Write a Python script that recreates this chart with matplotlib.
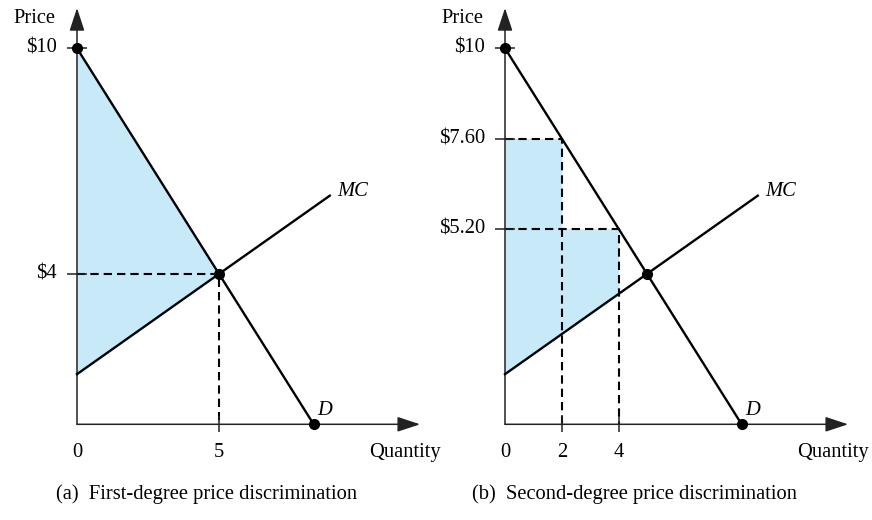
import matplotlib.pyplot as plt
import numpy as np

plt.rcParams['font.family'] = ['Liberation Serif', 'DejaVu Serif']

# same market in both panels: demand P = 10 - 1.2Q, MC = 4/3 + 8/15 Q
demand_intercept = 10.0
demand_slope = 1.2
mc_intercept = 4 / 3
mc_slope = 8 / 15
mc_end_q = 8.9

# (a) first-degree
a_eq_q, a_eq_p = 5, 4
a_price_ticks = [10, 4]
a_price_labels = ['$10', '$4']
a_qty_ticks = [0, 5]
a_qty_labels = ['0', '5']

# (b) second-degree, block pricing
b_block_q = [0, 2, 4]
b_block_p = [7.6, 5.2]
b_price_ticks = [10, 7.6, 5.2]
b_price_labels = ['$10', '$7.60', '$5.20']
b_qty_ticks = [0, 2, 4]
b_qty_labels = ['0', '2', '4']

captions = ['(a)  First-degree price discrimination',
            '(b)  Second-degree price discrimination']

FILL = '#c8e9f8'
FS = 14.8
W, H = 872, 520
px_q, px_p = 28.4, 37.6        # pixels per unit of quantity / price
base_y = 424.3                 # pixel row of the quantity axis
origins = [77, 505]            # pixel column of the price axis
q_tip, p_tip = 12.08, 11.07    # arrow tips (data units)


def demand(q):
    return demand_intercept - demand_slope * q


def mc(q):
    return mc_intercept + mc_slope * q


def draw_base(ax, price_ticks, price_labels, qty_ticks, qty_labels, caption):
    ax.axis('off')
    arrow = dict(arrowstyle='-|>,head_length=1.0,head_width=0.33', color='#222222',
                 lw=1.1, shrinkA=0, shrinkB=0, mutation_scale=14)
    ax.annotate('', xy=(0, p_tip), xytext=(0, 0), arrowprops=arrow, zorder=4)
    ax.annotate('', xy=(q_tip, 0), xytext=(0, 0), arrowprops=arrow, zorder=4)

    # tick marks and labels
    ax.plot([0] * len(price_ticks), price_ticks, ls='none', marker='_',
            ms=14, mew=1.1, color='#222222', zorder=4)
    for p, lab in zip(price_ticks, price_labels):
        ax.annotate(lab, xy=(0, p), xytext=(-20, 0), textcoords='offset pixels',
                    ha='right', va='center', fontsize=FS)
    ticks_q = [q for q in qty_ticks if q != 0]
    ax.plot(ticks_q, [0] * len(ticks_q), ls='none', marker='|',
            ms=11, mew=1.1, color='#222222', zorder=4)
    for q, lab in zip(qty_ticks, qty_labels):
        ax.annotate(lab, xy=(q, 0), xytext=(0, -28), textcoords='offset pixels',
                    ha='center', va='center', fontsize=FS)

    ax.annotate('Price', xy=(0, p_tip), xytext=(-22, -10), textcoords='offset pixels',
                ha='right', va='center', fontsize=FS)
    ax.annotate('Quantity', xy=(q_tip, 0), xytext=(21, -28), textcoords='offset pixels',
                ha='right', va='center', fontsize=FS)
    ax.annotate(caption, xy=(0, 0), xytext=(130, -70), textcoords='offset pixels',
                ha='center', va='center', fontsize=FS)

    # demand and MC
    q_d = np.array([0, demand_intercept / demand_slope])
    ax.plot(q_d, demand(q_d), color='black', lw=1.7, zorder=5)
    q_mc = np.array([0, mc_end_q])
    ax.plot(q_mc, mc(q_mc), color='black', lw=1.7, zorder=5)
    ax.annotate('MC', xy=(mc_end_q, mc(mc_end_q)), xytext=(7, 4), textcoords='offset pixels',
                ha='left', va='center', fontsize=FS, style='italic')
    ax.annotate('D', xy=(q_d[1], 0), xytext=(4, 14), textcoords='offset pixels',
                ha='left', va='center', fontsize=FS, style='italic')
    ax.plot([0, q_d[1]], [demand_intercept, 0], ls='none', marker='o', ms=7,
            color='black', zorder=6)


fig = plt.figure(figsize=(W / 100, H / 100), dpi=100)
axes = []
for i, ox in enumerate(origins):
    x0 = 436 * i
    ax = fig.add_axes([x0 / W, 0, 436 / W, 1])
    ax.set_xlim((x0 - ox) / px_q, (x0 + 436 - ox) / px_q)
    ax.set_ylim((base_y - H) / px_p, base_y / px_p)
    axes.append(ax)

dash = (0, (4, 2.4))

# (a)
ax = axes[0]
draw_base(ax, a_price_ticks, a_price_labels, a_qty_ticks, a_qty_labels, captions[0])
qa = np.array([0, a_eq_q])
ax.fill_between(qa, mc(qa), demand(qa), color=FILL, lw=0, zorder=1)
ax.plot([0, a_eq_q, a_eq_q], [a_eq_p, a_eq_p, 0], color='black', lw=1.5, ls=dash, zorder=3)
ax.plot([a_eq_q], [a_eq_p], marker='o', ms=7, color='black', zorder=6)

# (b)
ax = axes[1]
draw_base(ax, b_price_ticks, b_price_labels, b_qty_ticks, b_qty_labels, captions[1])
for q0, q1, p in zip(b_block_q[:-1], b_block_q[1:], b_block_p):
    qq = np.array([q0, q1])
    ax.fill_between(qq, mc(qq), [p, p], color=FILL, lw=0, zorder=1)
    ax.plot([0, q1, q1], [p, p, 0], color='black', lw=1.5, ls=dash, zorder=3)
q_star = (demand_intercept - mc_intercept) / (demand_slope + mc_slope)
ax.plot([q_star], [demand(q_star)], marker='o', ms=7, color='black', zorder=6)

fig.savefig('out.png', dpi=100, facecolor='white')
